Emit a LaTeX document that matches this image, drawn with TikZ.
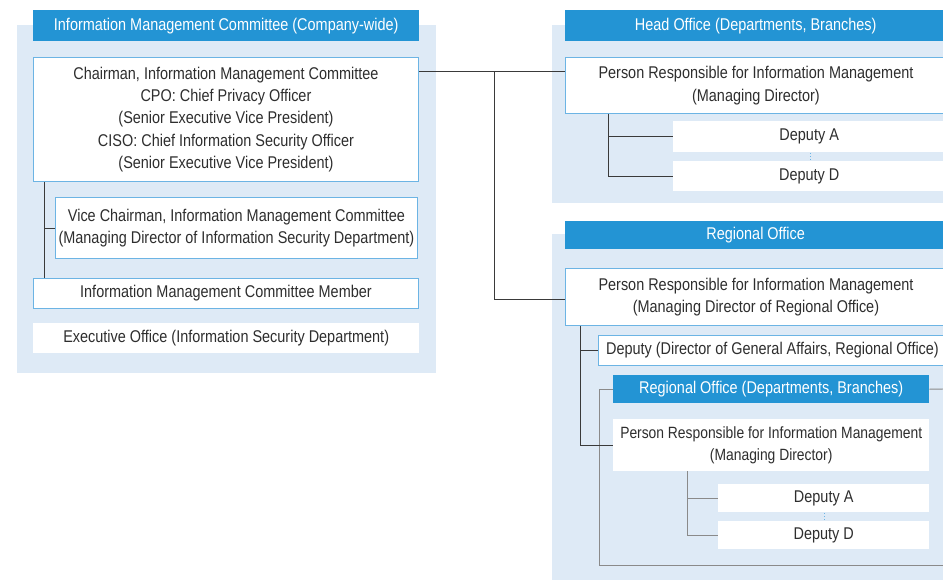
\documentclass[tikz,border=0pt]{standalone}
\usepackage{fontspec}
\setmainfont{Liberation Sans}[FakeStretch=0.85]
\usetikzlibrary{calc}
\definecolor{barblue}{HTML}{2394D4}
\definecolor{panel}{HTML}{DEEAF6}
\definecolor{bord}{HTML}{6CB4E4}
\definecolor{txt}{HTML}{2E2E2E}
\definecolor{linedark}{HTML}{3A3A3A}
\definecolor{linegray}{HTML}{8A8A8A}
\newcommand{\fs}{\fontsize{17}{22.4}\selectfont}
\newcommand{\fss}{\fontsize{16.3}{22.4}\selectfont}
\begin{document}
\begin{tikzpicture}[x=1pt,y=-1pt,
  every node/.style={font=\fs, text=txt, inner sep=0pt, anchor=north west, align=center},
  bar/.style={fill=barblue, text=white},
  wbox/.style={fill=white, draw=bord, line width=0.9pt},
  plain/.style={fill=white},
  link/.style={draw=linedark, line width=0.9pt},
  glink/.style={draw=linegray, line width=0.9pt},
  dots/.style={draw=bord, dotted, line width=0.9pt}]
\useasboundingbox (0,0) rectangle (943,579);
% panels
\fill[panel] (17,25) rectangle (436,373);
\fill[panel] (552,25) rectangle (945,203);
\fill[panel] (552,234) rectangle (945,580);
% left panel
\node[bar, minimum width=386pt, minimum height=31pt] (t1) at (33,10) {Information Management Committee (Company-wide)};
\node[wbox, minimum width=385pt, minimum height=124pt] (chair) at (33,57) {Chairman, Information Management Committee\\CPO: Chief Privacy Officer\\(Senior Executive Vice President)\\CISO: Chief Information Security Officer\\(Senior Executive Vice President)};
\node[wbox, minimum width=362pt, minimum height=61pt] (vice) at (55,197) {Vice Chairman, Information Management Committee\\(Managing Director of Information Security Department)};
\node[wbox, minimum width=385pt, minimum height=30pt] (member) at (33,278) {Information Management Committee Member};
\node[plain, minimum width=386pt, minimum height=30pt] (exec) at (33,323) {Executive Office (Information Security Department)};
% head office
\node[bar, minimum width=381pt, minimum height=31pt] (t2) at (565,10) {Head Office (Departments, Branches)};
\node[wbox, minimum width=381pt, minimum height=56pt] (hprim) at (565,57) {Person Responsible for Information Management\\(Managing Director)};
\node[plain, minimum width=272pt, minimum height=31pt] (hda) at (673,121) {Deputy A};
\node[plain, minimum width=272pt, minimum height=30pt] (hdd) at (673,161) {Deputy D};
% regional office
\node[bar, minimum width=381pt, minimum height=28pt] (t3) at (565,221) {Regional Office};
\node[wbox, minimum width=381pt, minimum height=57pt] (rprim) at (565,268) {Person Responsible for Information Management\\(Managing Director of Regional Office)};
\node[wbox, minimum width=348pt, minimum height=30pt] (rdep) at (598,335) {Deputy (Director of General Affairs, Regional Office)};
\node[bar, minimum width=316pt, minimum height=28pt] (t4) at (613,375) {Regional Office (Departments, Branches)};
\node[plain, font=\fss, minimum width=316pt, minimum height=52pt] (sprim) at (613,419) {Person Responsible for Information Management\\(Managing Director)};
\node[plain, minimum width=211pt, minimum height=28pt] (sda) at (718,484) {Deputy A};
\node[plain, minimum width=211pt, minimum height=28pt] (sdd) at (718,521) {Deputy D};
% gray frame
\draw[glink] (t4.west) -- ++(-14,0) |- (946,565);
\draw[glink] (t4.east) -- (946,389);
% connectors
\coordinate (j1) at (494,71);
\coordinate (j2) at (494,299);
\draw[link] (chair.east |- j1) -- (hprim.west |- j1);
\draw[link] (j1) -- (j2) -- (rprim.west |- j2);
\coordinate (lv) at (44,0);
\draw[link] (chair.south -| lv) -- (member.north -| lv);
\draw[link] (vice.west -| lv) -- (vice.west);
\coordinate (hv) at (608,0);
\draw[link] (hprim.south -| hv) -- (hdd.west -| hv) -- (hdd.west);
\draw[link] (hda.west -| hv) -- (hda.west);
\coordinate (rv) at (580,0);
\draw[link] (rprim.south -| rv) -- (sprim.west -| rv) -- (sprim.west);
\draw[link] (rdep.west -| rv) -- (rdep.west);
\coordinate (sv) at (687,0);
\draw[glink] (sprim.south -| sv) -- (sdd.west -| sv) -- (sdd.west);
\draw[glink] (sda.west -| sv) -- (sda.west);
% dotted
\draw[dots] ($(hda.south)+(1,1)$) -- ($(hdd.north)+(1,-1)$);
\draw[dots] ($(sda.south)+(1,1)$) -- ($(sdd.north)+(1,-1)$);
\end{tikzpicture}
\end{document}
